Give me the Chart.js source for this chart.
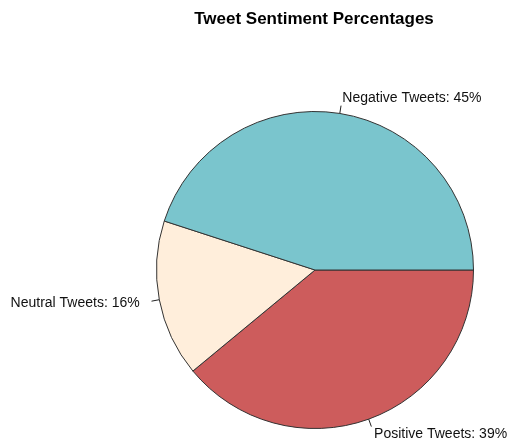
<!DOCTYPE html>
<html>
<head>
<meta charset="utf-8">
<script src="https://cdn.jsdelivr.net/npm/chart.js@4/dist/chart.umd.min.js"></script>
<style>
  html, body { margin: 0; padding: 0; background: #fff; }
  #wrap { width: 509px; height: 445px; }
</style>
</head>
<body>
<div id="wrap"><canvas id="pie"></canvas></div>
<script>
  // order: clockwise from 3 o'clock, so it reads like R's counter-clockwise pie
  const etiquetas = ['Positive Tweets', 'Neutral Tweets', 'Negative Tweets'];
  const porcentajes = [39, 16, 45];
  const colores = ['#CD5C5C', '#FFEEDB', '#7AC5CD'];
  const titulo = 'Tweet Sentiment Percentages';

  // R-style labels: short tick from r to 1.05r, text at 1.1r
  const etiquetasR = {
    id: 'etiquetasR',
    afterDatasetsDraw(chart) {
      const ctx = chart.ctx;
      const arcs = chart.getDatasetMeta(0).data;
      ctx.save();
      ctx.strokeStyle = '#222';
      ctx.lineWidth = 1;
      ctx.fillStyle = '#111';
      ctx.font = '14px "Liberation Sans", Arial, sans-serif';
      ctx.textBaseline = 'middle';
      arcs.forEach((a, i) => {
        const mid = (a.startAngle + a.endAngle) / 2;
        const r = a.outerRadius;
        const c = Math.cos(mid), s = Math.sin(mid);
        ctx.beginPath();
        ctx.moveTo(a.x + r * c, a.y + r * s);
        ctx.lineTo(a.x + 1.05 * r * c, a.y + 1.05 * r * s);
        ctx.stroke();
        ctx.textAlign = c >= 0 ? 'left' : 'right';
        const pad = c >= 0 ? 0 : -4;
        ctx.fillText(`${etiquetas[i]}: ${porcentajes[i]}%`, a.x + 1.1 * r * c + pad, a.y + 1.1 * r * s);
      });
      // title centred over the pie
      ctx.font = 'bold 17px "Liberation Sans", Arial, sans-serif';
      ctx.textAlign = 'center';
      ctx.fillStyle = '#000';
      ctx.fillText(titulo, arcs[0].x - 1, 19);
      ctx.restore();
    }
  };

  new Chart(document.getElementById('pie'), {
    type: 'pie',
    data: {
      labels: etiquetas,
      datasets: [{
        data: porcentajes,
        backgroundColor: colores,
        borderColor: '#333',
        borderWidth: 1
      }]
    },
    options: {
      responsive: true,
      maintainAspectRatio: false,
      animation: false,
      rotation: 90,
      layout: { padding: { left: 156, right: 35, top: 111, bottom: 16 } },
      plugins: {
        legend: { display: false },
        tooltip: { enabled: false },
        title: { display: false }
      }
    },
    plugins: [etiquetasR]
  });
</script>
</body>
</html>
